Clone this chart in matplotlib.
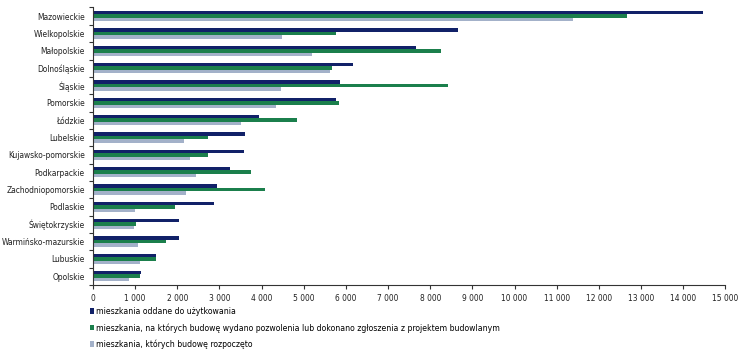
import matplotlib
matplotlib.use('Agg')
import matplotlib.pyplot as plt
import numpy as np
from matplotlib.ticker import FuncFormatter

plt.rcParams['font.family'] = ['DejaVu Sans']
plt.rcParams['font.stretch'] = 'condensed'

regions = ['Mazowieckie', 'Wielkopolskie', 'Małopolskie', 'Dolnośląskie', 'Śląskie',
           'Pomorskie', 'Łódzkie', 'Lubelskie', 'Kujawsko-pomorskie', 'Podkarpackie',
           'Zachodniopomorskie', 'Podlaskie', 'Świętokrzyskie', 'Warmińsko-mazurskie',
           'Lubuskie', 'Opolskie']

# mieszkania oddane do użytkowania
completed = [14480, 8660, 7670, 6170, 5850, 5770, 3950, 3610, 3590, 3250,
             2940, 2880, 2050, 2030, 1500, 1135]
# pozwolenia / zgłoszenia z projektem budowlanym
permits = [12680, 5770, 8250, 5670, 8420, 5830, 4830, 2730, 2740, 3760,
           4090, 1940, 1030, 1740, 1485, 1120]
# rozpoczęte budowy
started = [11380, 4490, 5200, 5620, 4470, 4340, 3500, 2160, 2290, 2440,
           2200, 1000, 970, 1060, 1110, 850]

series_labels = [
    'mieszkania oddane do użytkowania',
    'mieszkania, na których budowę wydano pozwolenia lub dokonano zgłoszenia z projektem budowlanym',
    'mieszkania, których budowę rozpoczęto',
]
colors = ['#112168', '#1b7f4c', '#a3b1c9']

fig = plt.figure(figsize=(7.5, 3.57), dpi=100)
ax = fig.add_axes([0.124, 0.202, 0.843, 0.777])

y = np.arange(len(regions))
h = 0.2
handles = []
for k, (vals, col) in enumerate(zip([completed, permits, started], colors)):
    b = ax.barh(y + (k - 1) * h, vals, height=h, color=col, linewidth=0)
    handles.append(b)

ax.set_ylim(len(regions) - 0.5, -0.5)
ax.set_xlim(0, 15000)
ax.set_xticks(np.arange(0, 15001, 1000))
ax.xaxis.set_major_formatter(FuncFormatter(lambda v, p: f'{int(v):,}'.replace(',', ' ')))
ax.set_yticks(y)
ax.set_yticklabels(regions)
ax.set_yticks(np.arange(-0.5, len(regions), 1), minor=True)
ax.tick_params(axis='y', which='major', length=0, pad=6, labelsize=6, colors='#222222')
ax.tick_params(axis='y', which='minor', length=3, width=0.8, color='#333333')
ax.tick_params(axis='x', length=3, width=0.8, color='#333333', labelsize=6, labelcolor='#222222')

for s in ['top', 'right']:
    ax.spines[s].set_visible(False)
for s in ['left', 'bottom']:
    ax.spines[s].set_color('#333333')
    ax.spines[s].set_linewidth(0.8)

fig.legend(handles, series_labels, loc='upper left', bbox_to_anchor=(0.12, 0.14),
           frameon=False, fontsize=6.2, handlelength=0.45, handleheight=0.6,
           handletextpad=0.3, labelspacing=0.82, borderpad=0, borderaxespad=0)

fig.savefig('out.png', dpi=100)
